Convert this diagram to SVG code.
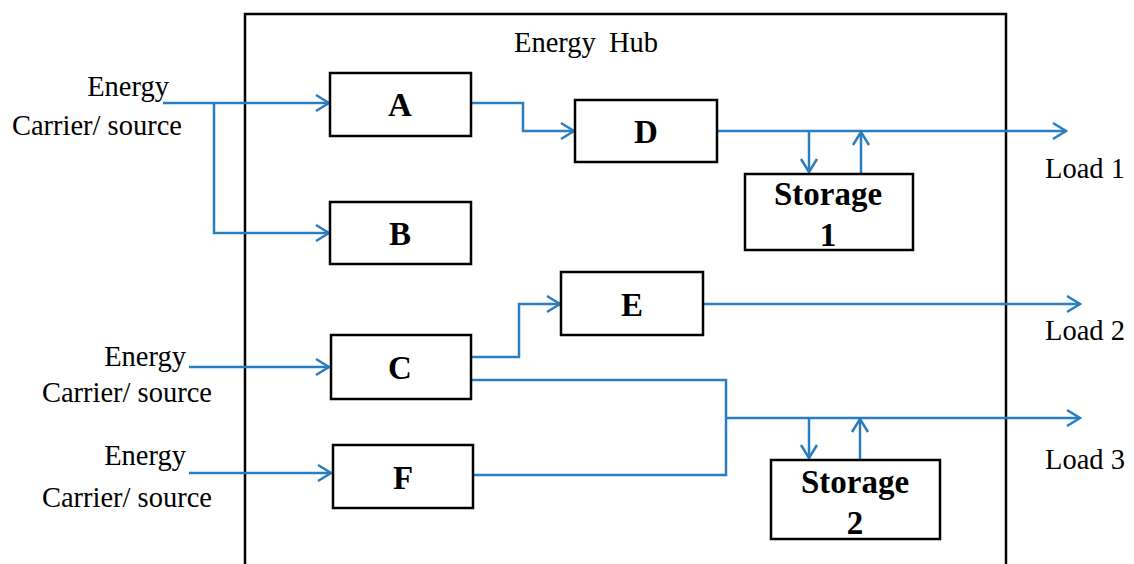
<svg xmlns="http://www.w3.org/2000/svg" width="1134" height="564" viewBox="0 0 1134 564">
<style>
.box{fill:#fff;stroke:#000;stroke-width:2.5}
.hub{fill:none;stroke:#000;stroke-width:2.5}
.lbl{font-family:"Liberation Serif",serif;font-weight:bold;font-size:33px;fill:#000;text-anchor:middle}
.txt{font-family:"Liberation Serif",serif;font-size:28.5px;fill:#000}
.c{fill:none;stroke:#2A7EC0;stroke-width:2.5}
.a{marker-end:url(#arr)}
</style>
<defs>
<marker id="arr" markerUnits="userSpaceOnUse" markerWidth="18" markerHeight="20" viewBox="0 0 18 20" refX="16" refY="10" orient="auto">
<path d="M3,2 L16,10 L3,18" fill="none" stroke="#2A7EC0" stroke-width="2.5"/>
</marker>
</defs>
<rect id="hub" class="hub" x="245" y="14" width="761" height="580"/>
<text class="txt" x="586" y="52" text-anchor="middle" word-spacing="6">Energy Hub</text>
<g id="inputs">
<text class="txt" x="169" y="96" text-anchor="end">Energy</text>
<text class="txt" x="182" y="135" text-anchor="end">Carrier/ source</text>
<text class="txt" x="186" y="366" text-anchor="end">Energy</text>
<text class="txt" x="212" y="402" text-anchor="end">Carrier/ source</text>
<text class="txt" x="186" y="465" text-anchor="end">Energy</text>
<text class="txt" x="212" y="507" text-anchor="end">Carrier/ source</text>
</g>
<g id="loads">
<text class="txt" x="1045" y="178">Load 1</text>
<text class="txt" x="1045" y="340">Load 2</text>
<text class="txt" x="1045" y="469">Load 3</text>
</g>
<g id="connectors">
<path class="c a" d="M163,103 H329"/>
<path class="c a" d="M214,103 V233 H329"/>
<path class="c a" d="M471,103 H523 V131 H574"/>
<path class="c a" d="M717,131 H1066"/>
<path class="c a" d="M809,131 V172"/>
<path class="c a" d="M861,174 V132"/>
<path class="c a" d="M189,367 H329"/>
<path class="c a" d="M189,473 H331"/>
<path class="c a" d="M471,357 H519 V304 H560"/>
<path class="c a" d="M703,304 H1080"/>
<path class="c" d="M471,380 H726 V475 H473"/>
<path class="c a" d="M726,418 H1080"/>
<path class="c a" d="M809,418 V458"/>
<path class="c a" d="M860,460 V419"/>
</g>
<g id="A"><rect class="box" x="330" y="73" width="141" height="63"/><text class="lbl" x="400" y="116">A</text></g>
<g id="B"><rect class="box" x="330" y="202" width="141" height="62"/><text class="lbl" x="400" y="245">B</text></g>
<g id="C"><rect class="box" x="331" y="335" width="140" height="64"/><text class="lbl" x="400" y="379">C</text></g>
<g id="D"><rect class="box" x="575" y="100" width="142" height="62"/><text class="lbl" x="646" y="143">D</text></g>
<g id="E"><rect class="box" x="561" y="272" width="142" height="63"/><text class="lbl" x="632" y="316">E</text></g>
<g id="F"><rect class="box" x="333" y="445" width="140" height="63"/><text class="lbl" x="403" y="489">F</text></g>
<g id="S1"><rect class="box" x="745" y="174" width="168" height="76"/><text class="lbl" x="828" y="205">Storage</text><text class="lbl" x="828" y="246">1</text></g>
<g id="S2"><rect class="box" x="771" y="460" width="169" height="79"/><text class="lbl" x="855" y="493">Storage</text><text class="lbl" x="855" y="534">2</text></g>
</svg>
